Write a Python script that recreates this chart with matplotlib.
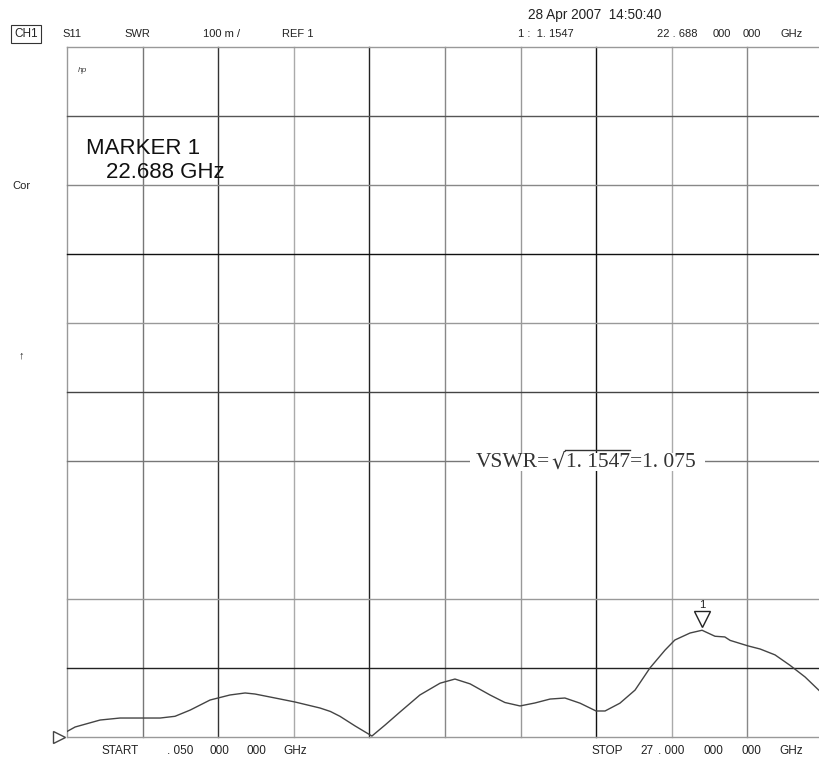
import matplotlib
matplotlib.use("Agg")
import matplotlib.pyplot as plt
import numpy as np

plt.rcParams['font.family'] = ['Liberation Sans', 'DejaVu Sans']

# S11 SWR trace
freq_ghz = [0.05, 0.34, 1.23, 1.94, 2.72, 3.37, 3.90, 4.44, 5.15, 5.86, 6.40, 6.75,
            7.47, 8.18, 9.07, 9.44, 9.78, 10.32, 10.92, 11.39, 11.92, 12.63, 13.35,
            13.88, 14.42, 15.13, 15.66, 16.20, 16.73, 17.27, 17.80, 18.34, 18.91,
            19.23, 19.76, 20.30, 20.83, 21.37, 21.72, 22.26, 22.688, 23.15, 23.50,
            23.69, 24.33, 24.76, 25.29, 25.82, 26.36, 27.0]
swr = [1.008, 1.0145, 1.0246, 1.0275, 1.0275, 1.0275, 1.030, 1.039, 1.0536, 1.0609,
       1.0638, 1.0623, 1.0565, 1.0507, 1.042, 1.037, 1.030, 1.016, 1.0014, 1.0174,
       1.0362, 1.0609, 1.078, 1.084, 1.077, 1.0609, 1.050, 1.045, 1.0493, 1.055,
       1.0565, 1.049, 1.0377, 1.0377, 1.049, 1.068, 1.100, 1.126, 1.1406, 1.1507,
       1.1547, 1.146, 1.145, 1.140, 1.132, 1.1275, 1.119, 1.104, 1.087, 1.062]

marker_f = 22.688
marker_swr = 1.1547

f_start, f_stop = 0.05, 27.0
swr_lines = [1.0, 1.1, 1.2, 1.4, 1.5, 1.6, 1.7, 1.8, 1.9, 2.0]   # 1.3 line missing on the plot
swr_line_colors = ['#999', '#222', '#999', '#777', '#444', '#999', '#111', '#888', '#555', '#999']
v_line_colors = ['#999', '#777', '#333', '#aaa', '#222', '#888', '#999', '#111', '#aaa', '#888', '#888']

W, H = 820, 760
fig = plt.figure(figsize=(W / 100, H / 100), dpi=100)
ax = fig.add_axes([67 / W, (H - 737) / H, 756 / W, 690 / H])
ax.set_xlim(f_start, f_stop)
ax.set_ylim(1.0, 2.0)
ax.axis('off')

df = (f_stop - f_start) / 10
for i, c in enumerate(v_line_colors):
    ax.axvline(f_start + i * df, color=c, lw=1.0, zorder=1, clip_on=False)
for s, c in zip(swr_lines, swr_line_colors):
    ax.axhline(s, color=c, lw=1.0, zorder=1, clip_on=False)

ax.plot(freq_ghz, swr, color='#444', lw=1.0, zorder=3)

# marker 1 triangle
ax.plot([marker_f], [marker_swr + 0.016], marker='v', ms=12, mfc='white',
        mec='#222', mew=1.0, zorder=4)
ax.annotate('1', (marker_f, marker_swr), xytext=(0, 18), textcoords='offset points',
            ha='center', va='center', fontsize=8, color='#222')
# reference position triangle
ax.plot([f_start - 0.28], [1.0], marker='>', ms=9, mfc='white', mec='#444', mew=1.0,
        clip_on=False, zorder=4)

def px(x, y):
    return x / W, 1 - y / H

small = dict(fontsize=8, color='#222', va='center')
fig.text(*px(528, 15), '28 Apr 2007  14:50:40', fontsize=9.8, color='#222', va='center')
fig.text(*px(14, 34), 'CH1', fontsize=8.5, color='#222', va='center',
         bbox=dict(boxstyle='square,pad=0.25', fc='white', ec='#333', lw=0.8))
fig.text(*px(62, 34), 'S11', **small)
fig.text(*px(124, 34), 'SWR', **small)
fig.text(*px(203, 34), '100 m /', **small)
fig.text(*px(282, 34), 'REF 1', **small)
fig.text(*px(518, 34), '1 :  1. 1547', **small)
fig.text(*px(657, 34), '22 . 688', **small)
fig.text(*px(713, 34), '000', **small)
fig.text(*px(743, 34), '000', **small)
fig.text(*px(781, 34), 'GHz', **small)
fig.text(*px(78, 71), 'hp', fontsize=6, style='italic', color='#444', va='center')
fig.text(*px(12, 186), 'Cor', **small)
fig.text(*px(19, 355), '\u2191', fontsize=8, color='#222', va='center')

fig.text(*px(86, 148), 'MARKER 1', fontsize=16, color='#111', va='center')
fig.text(*px(106, 172), '22.688 GHz', fontsize=16, color='#111', va='center')

# VSWR note, written piece by piece so the radical bar can sit over its argument
renderer = fig.canvas.get_renderer()
vswr_parts = ['VSWR=', '\u221a', '1. 1547', '=1. 075']
serif = ['Liberation Serif', 'DejaVu Serif']
cx = 476
bar = None
for k, part in enumerate(vswr_parts):
    fam = ['DejaVu Sans'] if k == 1 else serif
    t = fig.text(*px(cx, 463), part, fontsize=15.5, family=fam,
                 color='#333', va='center', zorder=5)
    bb = t.get_window_extent(renderer)
    if k == 2:
        bar = (cx - 1, cx + bb.width)
    cx += bb.width + (1 if k < 2 else 0)
# white gap in the 1.4 grid line behind the note
fig.patches.append(plt.Rectangle(px(470, 471), (cx + 9 - 470) / W, 18 / H,
                                 transform=fig.transFigure, fc='white', ec='none', zorder=4))
fig.add_artist(plt.Line2D([bar[0] / W, bar[1] / W], [1 - 450 / H, 1 - 450 / H],
                          transform=fig.transFigure, color='#333', lw=1.0, zorder=6))

fig.text(*px(102, 751), 'START', fontsize=8.5, color='#222', va='center')
fig.text(*px(167, 751), '. 050', fontsize=8.5, color='#222', va='center')
fig.text(*px(210, 751), '000', fontsize=8.5, color='#222', va='center')
fig.text(*px(247, 751), '000', fontsize=8.5, color='#222', va='center')
fig.text(*px(283, 751), 'GHz', fontsize=8.5, color='#222', va='center')
fig.text(*px(592, 751), 'STOP', fontsize=8.5, color='#222', va='center')
fig.text(*px(640, 751), '27', fontsize=8.5, color='#222', va='center')
fig.text(*px(658, 751), '. 000', fontsize=8.5, color='#222', va='center')
fig.text(*px(704, 751), '000', fontsize=8.5, color='#222', va='center')
fig.text(*px(742, 751), '000', fontsize=8.5, color='#222', va='center')
fig.text(*px(779, 751), 'GHz', fontsize=8.5, color='#222', va='center')

fig.savefig('out.png', dpi=100, facecolor='white')
